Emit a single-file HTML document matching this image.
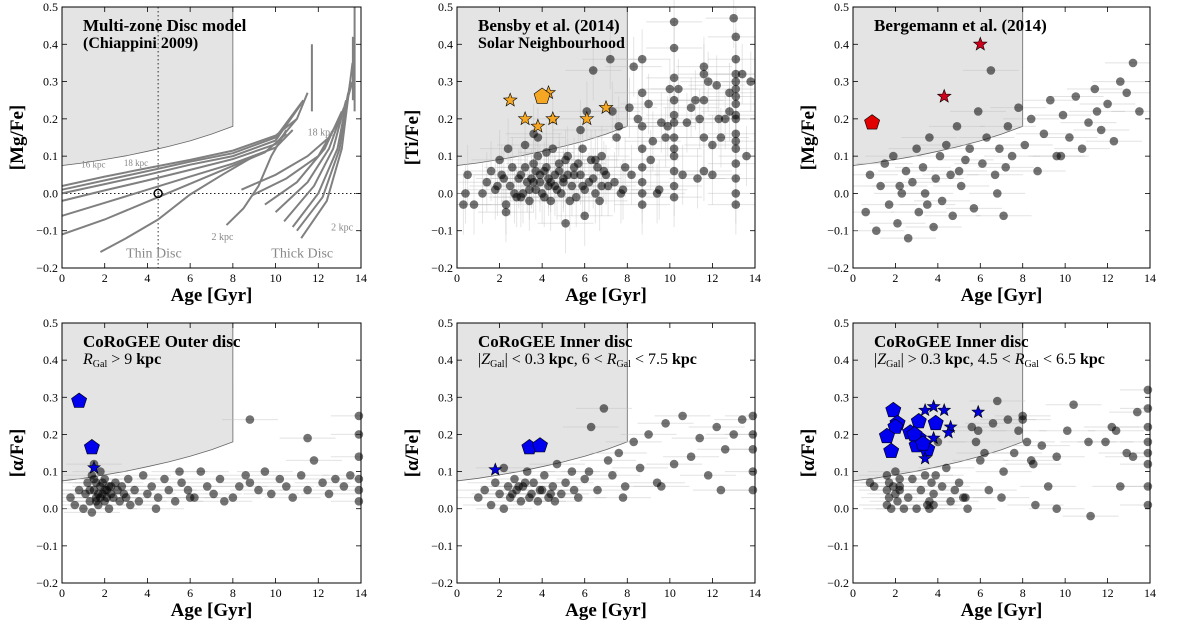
<!DOCTYPE html>
<html><head><meta charset="utf-8">
<style>
html,body{margin:0;padding:0;background:#fff;}
svg{display:block;font-family:"Liberation Serif","DejaVu Serif",serif;}
</style></head>
<body>
<svg id="fig" width="1200" height="620" viewBox="0 0 1200 620" xmlns="http://www.w3.org/2000/svg"></svg>
<script>
// ---------- data ----------
const xTicks=[0,2,4,6,8,10,12,14];
const yTicks=[-0.2,-0.1,0.0,0.1,0.2,0.3,0.4,0.5];
const yTickLabels=["−0.2","−0.1","0.0","0.1","0.2","0.3","0.4","0.5"];
const boundaryAge=[0,1,2,3,4,5,6,7,8];
const boundaryVal=[0.075,0.082,0.091,0.101,0.113,0.126,0.141,0.159,0.18];

// Panel 1 model tracks
const modelTracks=[
 [[0,0.02],[2,0.045],[4,0.068],[6,0.09],[8,0.115],[10,0.155],[11,0.2],[11.5,0.27]],
 [[0,0.01],[2,0.035],[4,0.06],[6,0.085],[8,0.108],[10,0.15],[11.3,0.25]],
 [[0,0.0],[2,0.025],[4,0.05],[6,0.077],[8,0.1],[10,0.142],[11.2,0.24]],
 [[0,-0.02],[2,0.008],[4,0.035],[6,0.063],[8,0.092],[10,0.132],[11,0.2]],
 [[0,-0.06],[2,-0.025],[4,0.01],[6,0.045],[8,0.08],[10,0.123],[10.8,0.17]],
 [[0,-0.11],[2,-0.07],[4.5,-0.01],[7,0.05],[9.5,0.11],[10.5,0.16]],
 [[1.8,-0.157],[3,-0.12],[4.5,-0.07],[6,-0.003],[7.5,0.05],[9,0.1]],
 [[7.7,-0.085],[8.5,-0.04],[9.2,0.02],[9.8,0.1],[10.5,0.17]],
 [[11.7,0.22],[11.7,0.4]],
 [[8.4,0.01],[10,0.05],[11.5,0.1],[12.5,0.15],[13.2,0.22],[13.6,0.3]],
 [[8.9,-0.005],[10.5,0.04],[12,0.1],[13,0.2]],
 [[9.5,-0.03],[11,0.03],[12.3,0.12],[13.1,0.22]],
 [[10,-0.05],[11.5,0.03],[12.5,0.12],[13.2,0.23]],
 [[10.4,-0.075],[11.8,0.02],[12.7,0.12],[13.3,0.25]],
 [[10.8,-0.09],[12,0.0],[12.9,0.12],[13.4,0.27]],
 [[11,-0.1],[12.2,-0.01],[13,0.12],[13.5,0.3]],
 [[11.2,-0.12],[12.4,-0.02],[13.1,0.12],[13.6,0.35]],
 [[13.7,0.22],[13.7,0.5]],
 [[13.62,0.25],[13.62,0.42]]
];

// Panel 2 Bensby
const p2Age=[0.3,0.5,0.8,0.4,1.2,1.4,1.6,1.8,2,2.2,2.3,2.5,2.6,2.8,3,3.1,3.3,3.4,3.5,3.6,3.7,3.8,3.9,4,4.1,4.2,4.3,4.4,4.5,4.6,4.7,4.8,4.9,5,5.1,5.2,5.4,5.5,5.6,5.8,5.9,6,6.2,6.3,6.4,6.5,6.6,6.8,7,7.2,7.3,7.5,7.7,7.9,8.1,8.3,8.5,8.7,8.7,8.7,8.7,8.7,8.7,9,9.2,9.4,9.6,9.8,10,10.2,10.2,10.2,10.2,10.2,10.2,10.2,10.2,10.2,10.2,10.4,10.6,10.8,11,11.2,11.4,11.6,11.6,11.6,11.6,11.8,12,12.2,12.4,12.6,12.8,13,13.1,13.1,13.1,13.1,13.1,13.1,13.1,13.1,13.1,13.1,13.1,13.1,13.1,13.1,13.4,13.6,13.8,3.2,3.8,4.5,2.4,5.2,6.1,7.1,3.6,4.2,9.5,9.9,11.3,12.3,12.8,6.5,5.8,
 1.9,2.1,2.7,2.9,3.2,3.4,3.6,3.9,4.1,4.3,4.6,4.8,5.0,5.3,5.5,5.7,6.0,6.4,6.7,6.9,7.4,7.8,8.2,2.3,3.0,3.7,4.4,5.1,5.9,6.8,10.2,10.2,13.1,13.1,8.7,8.7,11.6,12.0,9.1,7.6];
const p2Val=[-0.03,0.05,-0.03,0.0,0.0,0.03,0.06,0.01,0.09,0.04,-0.05,0.02,0.07,-0.01,0.05,0.0,0.03,-0.02,0.04,0.08,0.01,0.1,0.03,0.0,0.06,0.11,0.02,-0.02,0.12,0.05,0.01,0.08,0.0,0.04,-0.08,0.1,0.02,0.07,-0.01,0.05,0.12,-0.06,0.03,0.09,0.33,0.0,0.07,0.02,0.05,0.36,0.22,0.15,0.0,0.07,0.23,0.34,0.2,0.36,0.27,0.18,0.07,0.0,-0.03,0.24,0.14,0.0,0.19,0.15,0.28,0.46,0.39,0.31,0.25,0.19,0.15,0.1,0.06,0.02,-0.01,0.28,0.05,0.19,0.23,0.25,0.2,0.34,0.25,0.15,0.06,0.3,0.13,0.29,0.15,0.2,0.27,0.47,0.42,0.36,0.32,0.28,0.24,0.2,0.16,0.12,0.08,0.04,0.0,-0.03,0.26,0.3,0.32,0.1,0.3,0.13,0.15,0.2,0.12,0.05,0.22,0.02,0.16,0.07,0.01,0.18,0.04,0.2,0.22,0.09,0.17,
 0.02,0.05,0.0,0.04,0.07,0.01,0.03,0.05,-0.01,0.04,0.02,0.06,0.03,-0.02,0.05,0.08,0.01,0.04,-0.02,0.06,0.03,0.01,0.05,-0.03,-0.01,0.06,0.03,0.09,0.02,0.1,0.21,0.12,0.21,0.14,0.03,0.12,0.32,0.05,0.09,0.18];
const p2StarAge=[2.5,3.2,3.8,4.5,6.1,7.0,4.3];
const p2StarVal=[0.25,0.2,0.18,0.2,0.2,0.23,0.27];
const p2PentAge=[4.0];
const p2PentVal=[0.26];

// Panel 3 Bergemann
const p3Age=[0.6,0.8,1.1,1.3,1.5,1.7,1.9,2.1,2.3,2.5,2.6,2.8,3,3.1,3.3,3.4,3.6,3.8,3.9,4.1,4.2,4.4,4.6,4.7,4.9,5.1,5.3,5.5,5.7,5.9,6.1,6.3,6.5,6.7,6.9,7.1,7.3,7.5,7.8,8.1,8.4,8.7,9,9.3,9.6,9.9,10.2,10.5,10.8,11.1,11.4,11.7,12,12.3,12.6,12.9,13.2,13.5,2.2,3.5,5,6.8,7.2,9.8,11.5];
const p3Val=[-0.05,0.05,-0.1,0.02,0.08,-0.03,0.1,-0.08,0.0,0.06,-0.12,0.03,0.12,-0.05,0.07,0.0,0.15,-0.09,0.04,0.1,-0.02,0.13,0.05,-0.06,0.18,0.02,0.09,0.12,-0.04,0.22,0.08,0.15,0.33,0.05,0.12,-0.06,0.18,0.1,0.23,0.13,0.2,0.06,0.16,0.25,0.1,0.21,0.15,0.26,0.12,0.19,0.28,0.17,0.24,0.14,0.3,0.27,0.35,0.22,0.02,-0.03,0.06,0.0,0.07,0.1,0.22];
const p3StarAge=[4.3,6.0];
const p3StarVal=[0.26,0.4];
const p3PentAge=[0.9];
const p3PentVal=[0.19];

// Panel 4 Outer disc
const p4Age=[0.4,0.6,0.8,1.0,1.1,1.2,1.3,1.4,1.5,1.5,1.6,1.6,1.7,1.8,1.8,1.9,2.0,2.0,2.1,2.2,2.2,2.3,2.4,2.5,2.6,2.7,2.8,2.9,3.0,3.1,3.2,3.4,3.6,3.8,4.0,4.2,4.5,4.8,5.0,5.3,5.6,5.9,6.2,6.5,6.8,7.1,7.4,7.6,8.0,8.3,8.6,8.8,9.2,9.5,9.8,10.2,10.5,10.8,11.2,11.5,11.8,12.2,12.5,12.8,13.2,13.5,13.9,13.9,13.9,13.9,13.9,13.9,8.8,6.0,11.5,4.4,5.5,1.3,1.5,1.7,1.9,2.1,2.3,1.4,1.6,1.8,2.0];
const p4Val=[0.03,0.01,0.05,0.0,0.04,0.07,0.02,0.09,0.05,0.12,0.03,0.07,0.01,0.06,0.1,0.04,0.08,0.02,0.05,0.06,0.0,0.04,0.03,0.07,0.05,0.02,0.06,0.04,0.03,0.08,0.01,0.05,0.02,0.09,0.04,0.06,0.03,0.08,0.05,0.02,0.07,0.05,0.03,0.1,0.06,0.04,0.08,0.02,0.03,0.06,0.09,0.07,0.05,0.1,0.04,0.08,0.06,0.03,0.09,0.05,0.13,0.07,0.04,0.08,0.06,0.09,0.25,0.2,0.14,0.08,0.05,0.02,0.24,0.03,0.19,0.0,0.1,0.05,0.08,0.04,0.07,0.03,0.06,-0.01,0.02,0.03,0.05];
const p4StarAge=[1.5];
const p4StarVal=[0.11];
const p4PentAge=[0.8,1.4];
const p4PentVal=[0.29,0.165];

// Panel 5 Inner disc low Z
const p5Age=[1.0,1.3,1.6,1.8,2.0,2.2,2.4,2.5,2.7,2.8,3.0,3.1,3.3,3.5,3.6,3.8,4.0,4.1,4.3,4.5,4.7,4.9,5.1,5.4,5.7,6.0,6.3,6.6,6.9,7.1,7.3,7.6,7.9,8.3,8.6,9.0,9.4,9.8,10.2,10.6,11.0,11.4,11.8,12.2,12.6,13.0,13.4,13.9,13.9,13.9,13.9,13.9,2.2,3.2,4.6,5.5,6.2,7.8,9.6,12.4,2.6,2.9,3.4,3.9,4.4];
const p5Val=[0.03,0.05,0.01,0.07,0.04,0.0,0.06,0.03,0.08,0.05,0.02,0.06,0.1,0.04,0.07,0.02,0.05,0.09,0.03,0.06,0.12,0.04,0.07,0.1,0.03,0.08,0.22,0.05,0.27,0.13,0.09,0.15,0.06,0.18,0.11,0.2,0.07,0.23,0.12,0.25,0.14,0.19,0.09,0.22,0.16,0.2,0.24,0.25,0.2,0.16,0.1,0.05,0.11,0.07,0.02,0.05,0.1,0.03,0.06,0.05,0.04,0.06,0.03,0.05,0.04];
const p5StarAge=[1.8];
const p5StarVal=[0.105];
const p5PentAge=[3.4,3.9];
const p5PentVal=[0.165,0.17];

// Panel 6 Inner disc high Z
const p6Age=[0.8,1.0,1.6,1.6,1.7,1.8,1.9,2.0,2.1,2.2,2.2,2.4,2.6,2.8,3.0,3.2,3.4,3.5,3.6,3.7,3.8,3.9,4.0,4.2,4.4,4.6,4.8,5.0,5.2,5.4,5.6,5.8,6.0,6.2,6.4,6.6,6.8,7.1,7.3,7.6,7.8,8.0,8.2,8.4,8.6,8.9,9.2,9.6,10.1,10.4,11.1,11.2,11.9,12.2,12.4,12.6,12.9,13.2,13.4,13.9,13.9,13.9,13.9,13.9,13.9,13.9,13.9,5.9,7.0,8.5,9.6,8.0,1.6,1.7,2.0,2.2,3.6,3.8,5.3];
const p6Val=[0.07,0.06,0.09,0.05,0.03,0.0,0.06,0.1,0.02,0.08,0.05,0.0,0.03,0.08,0.0,0.05,0.09,0.01,0.02,0.07,0.04,0.09,0.18,0.06,0.11,0.02,0.05,0.07,0.03,0.0,0.22,0.18,0.13,0.15,0.05,0.23,0.29,0.1,0.24,0.15,0.21,0.25,0.18,0.13,0.01,0.17,0.06,0.14,0.21,0.28,0.18,-0.02,0.18,0.22,0.21,0.06,0.15,0.14,0.26,0.32,0.27,0.22,0.18,0.15,0.12,0.06,0.01,0.21,0.03,0.12,0.0,0.24,0.01,0.07,0.04,0.06,0.0,0.01,0.03];
const p6StarAge=[3.4,3.8,4.3,4.6,3.8,3.4,5.9,4.5];
const p6StarVal=[0.265,0.275,0.265,0.22,0.19,0.135,0.26,0.205];
const p6PentAge=[1.9,2.1,2.0,1.6,1.8,2.7,3.1,3.1,3.0,3.5,3.9,2.9,3.3];
const p6PentVal=[0.265,0.23,0.22,0.195,0.155,0.205,0.235,0.19,0.17,0.16,0.23,0.2,0.175];

// ---------- drawing ----------
const NS="http://www.w3.org/2000/svg";
const svg=document.getElementById('fig');
function mk(tag,attrs,parent){const e=document.createElementNS(NS,tag);for(const k in attrs)e.setAttribute(k,attrs[k]);(parent||svg).appendChild(e);return e;}
const panels=[
 {x0:62,x1:361,y0:7,y1:268},
 {x0:457,x1:755,y0:7,y1:268},
 {x0:853,x1:1150,y0:7,y1:268},
 {x0:62,x1:361,y0:323,y1:583},
 {x0:457,x1:755,y0:323,y1:583},
 {x0:853,x1:1150,y0:323,y1:583}
];
const ylabels=["[Mg/Fe]","[Ti/Fe]","[Mg/Fe]","[α/Fe]","[α/Fe]","[α/Fe]"];
function sx(p,a){return p.x0+(a/14)*(p.x1-p.x0);}
function sy(p,v){return p.y1-((v+0.2)/0.7)*(p.y1-p.y0);}
function starPath(cx,cy,r){let d="";for(let i=0;i<10;i++){const rr=i%2?r*0.42:r;const t=-Math.PI/2+i*Math.PI/5;d+=(i?"L":"M")+(cx+rr*Math.cos(t)).toFixed(1)+","+(cy+rr*Math.sin(t)).toFixed(1);}return d+"Z";}
function pentPath(cx,cy,r){let d="";for(let i=0;i<5;i++){const t=-Math.PI/2+i*2*Math.PI/5;d+=(i?"L":"M")+(cx+r*Math.cos(t)).toFixed(1)+","+(cy+r*Math.sin(t)).toFixed(1);}return d+"Z";}

panels.forEach((p,i)=>{
 const g=mk('g',{});
 
 
 let d="M"+sx(p,0)+","+sy(p,0.5);
 boundaryAge.forEach((a,k)=>{d+="L"+sx(p,a).toFixed(1)+","+sy(p,boundaryVal[k]).toFixed(1);});
 d+="L"+sx(p,8)+","+sy(p,0.5)+"Z";
 const reg=mk('path',{d:d,fill:'#e4e4e4',stroke:'#666','stroke-width':0.8},g);
 
 
 xTicks.forEach(t=>{
  const x=sx(p,t);
  mk('line',{x1:x,x2:x,y1:p.y1,y2:p.y1-5,stroke:'#000','stroke-width':0.8},g);
  mk('line',{x1:x,x2:x,y1:p.y0,y2:p.y0+5,stroke:'#000','stroke-width':0.8},g);
  const tl=mk('text',{x:x,y:p.y1+14,'font-size':12,'text-anchor':'middle',fill:'#000'},g);
  tl.textContent=t;
  
  
 });
 yTicks.forEach((t,k)=>{
  const y=sy(p,t);
  mk('line',{x1:p.x0,x2:p.x0+5,y1:y,y2:y,stroke:'#000','stroke-width':0.8},g);
  mk('line',{x1:p.x1,x2:p.x1-5,y1:y,y2:y,stroke:'#000','stroke-width':0.8},g);
  const tl=mk('text',{x:p.x0-4,y:y+4,'font-size':12,'text-anchor':'end',fill:'#000'},g);
  tl.textContent=yTickLabels[k];
  
  
 });
 const xt=mk('text',{x:(p.x0+p.x1)/2,y:p.y1+33,'font-size':19,'font-weight':'bold','text-anchor':'middle'},g);
 xt.textContent="Age [Gyr]";
 
 
 const yt=mk('text',{x:0,y:0,'font-size':19,'font-weight':'bold','text-anchor':'middle',transform:`translate(${p.x0-39},${(p.y0+p.y1)/2}) rotate(-90)`},g);
 yt.textContent=ylabels[i];
 
 
 p.eg=mk('g',{},g);
 p.g=g;
});

function scatter(p,ages,vals,vert){
 ages.forEach((a,k)=>{
  const x=sx(p,a),y=sy(p,vals[k]);
  const e=mk('line',{x1:Math.max(p.x0,x-28),x2:Math.min(p.x1,x+28),y1:y,y2:y,stroke:'rgba(190,190,190,0.45)','stroke-width':1},p.eg);
  
  
  if(vert){mk('line',{x1:x,x2:x,y1:y-30,y2:Math.min(p.y1,y+30),stroke:'rgba(190,190,190,0.4)','stroke-width':1},p.eg);}
 });
 ages.forEach((a,k)=>{
  const c=mk('circle',{cx:sx(p,a).toFixed(1),cy:sy(p,vals[k]).toFixed(1),r:4.3,fill:'rgba(0,0,0,0.55)'},p.g);
  
  
 });
}
function stars(p,ages,vals,color,r){
 ages.forEach((a,k)=>{
  const s=mk('path',{d:starPath(sx(p,a),sy(p,vals[k]),r),fill:color,stroke:'#000','stroke-width':0.6},p.g);
  
  
 });
}
function pents(p,ages,vals,color,r){
 ages.forEach((a,k)=>{
  const s=mk('path',{d:pentPath(sx(p,a),sy(p,vals[k]),r),fill:color,stroke:'#000','stroke-width':0.6},p.g);
  
  
 });
}

// Panel 1
(function(){
 const p=panels[0];
 const vx=sx(p,4.5),hy=sy(p,0);
 mk('line',{x1:vx,x2:vx,y1:p.y0,y2:p.y1,stroke:'#000','stroke-width':0.8,'stroke-dasharray':'1.5,2.5'},p.g);
 mk('line',{x1:p.x0,x2:p.x1,y1:hy,y2:hy,stroke:'#000','stroke-width':0.8,'stroke-dasharray':'1.5,2.5'},p.g);
 modelTracks.forEach(tr=>{
  const l=mk('polyline',{points:tr.map(q=>sx(p,q[0]).toFixed(1)+","+sy(p,q[1]).toFixed(1)).join(" "),fill:'none',stroke:'#808080','stroke-width':2},p.g);
  
  
 });
 const sun=mk('circle',{cx:vx,cy:hy,r:4,fill:'none',stroke:'#000','stroke-width':1.5},p.g);
 
 
 mk('circle',{cx:vx,cy:hy,r:0.8,fill:'#000'},p.g);
 const labs=[["18 kpc",11.5,0.155,10],["2 kpc",7,-0.125,10],["2 kpc",12.6,-0.1,10],["16 kpc",0.9,0.07,9],["18 kpc",2.9,0.073,9],["Thin Disc",3.0,-0.172,14],["Thick Disc",9.8,-0.172,14]];
 labs.forEach(L=>{
  const t=mk('text',{x:sx(p,L[1]),y:sy(p,L[2]),'font-size':L[3],fill:'#888'},p.g);
  t.textContent=L[0];
  
  
 });
})();
scatter(panels[1],p2Age,p2Val,true);
stars(panels[1],p2StarAge,p2StarVal,'#f5a623',7);
pents(panels[1],p2PentAge,p2PentVal,'#f5a623',8.5);
scatter(panels[2],p3Age,p3Val,false);
stars(panels[2],p3StarAge,p3StarVal,'#d0021b',7);
pents(panels[2],p3PentAge,p3PentVal,'#e00000',8);
scatter(panels[3],p4Age,p4Val,false);
stars(panels[3],p4StarAge,p4StarVal,'#0000dd',6.5);
pents(panels[3],p4PentAge,p4PentVal,'#0000ee',8);
scatter(panels[4],p5Age,p5Val,false);
stars(panels[4],p5StarAge,p5StarVal,'#0000dd',6.5);
pents(panels[4],p5PentAge,p5PentVal,'#0000ee',8);
scatter(panels[5],p6Age,p6Val,false);
pents(panels[5],p6PentAge,p6PentVal,'#0000ee',8);
stars(panels[5],p6StarAge,p6StarVal,'#0000dd',6.5);

// titles (plain lines; sub-labelled lines built with tspans)
const titles=[
 ["Multi-zone Disc model","(Chiappini 2009)"],
 ["Bensby et al. (2014)","Solar Neighbourhood"],
 ["Bergemann et al. (2014)"],
 ["CoRoGEE Outer disc",null],
 ["CoRoGEE Inner disc",null],
 ["CoRoGEE Inner disc",null]
];
const subLines={
 3:[["R",{"font-style":"italic"}],["Gal",{"font-size":10,"dy":3}],[" > 9 ",{"dy":-3}],["kpc",{"font-weight":"bold"}]],
 4:[["|",{}],["Z",{"font-style":"italic"}],["Gal",{"font-size":10,"dy":3}],["| < 0.3 ",{"dy":-3}],["kpc",{"font-weight":"bold"}],[", 6 < ",{}],["R",{"font-style":"italic"}],["Gal",{"font-size":10,"dy":3}],[" < 7.5 ",{"dy":-3}],["kpc",{"font-weight":"bold"}]],
 5:[["|",{}],["Z",{"font-style":"italic"}],["Gal",{"font-size":10,"dy":3}],["| > 0.3 ",{"dy":-3}],["kpc",{"font-weight":"bold"}],[", 4.5 < ",{}],["R",{"font-style":"italic"}],["Gal",{"font-size":10,"dy":3}],[" < 6.5 ",{"dy":-3}],["kpc",{"font-weight":"bold"}]]
};
panels.forEach((p,i)=>{
 titles[i].forEach((T,j)=>{
  const t=mk('text',{x:p.x0+21,y:p.y0+24+j*17,'font-size':j===0?17:16,'font-weight':j===0?'bold':'normal',fill:'#000'},p.g);
  
  
  if(T!==null){t.textContent=T;if(i<3)t.setAttribute('font-weight','bold');}
  else{subLines[i].forEach(s=>{const ts=mk('tspan',s[1],t);ts.textContent=s[0];});}
 });
 const f=mk('rect',{x:p.x0,y:p.y0,width:p.x1-p.x0,height:p.y1-p.y0,fill:'none',stroke:'#000','stroke-width':1},p.g);
 
 
});
</script>
</body></html>
